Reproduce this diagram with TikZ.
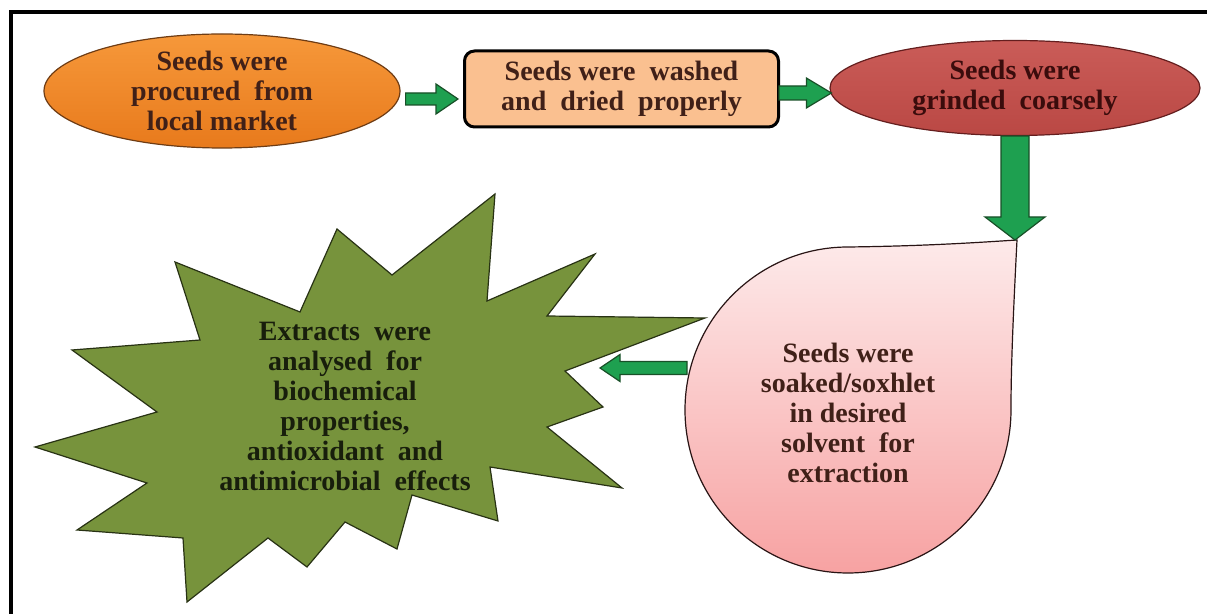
\documentclass[tikz,border=0pt]{standalone}
\usepackage{fontspec}
\setmainfont{Liberation Serif}
\usetikzlibrary{shapes.geometric,calc}
\definecolor{textbrown}{RGB}{64,32,24}
\definecolor{grindtext}{RGB}{58,12,12}
\definecolor{startext}{RGB}{24,30,12}
\definecolor{orangetop}{RGB}{246,152,58}
\definecolor{orangebot}{RGB}{232,122,28}
\definecolor{orangeedge}{RGB}{110,60,20}
\definecolor{washpeach}{RGB}{250,192,144}
\definecolor{grindtop}{RGB}{202,92,88}
\definecolor{grindbot}{RGB}{186,72,68}
\definecolor{grindedge}{RGB}{100,30,30}
\definecolor{droptop}{RGB}{253,234,234}
\definecolor{dropbot}{RGB}{247,162,162}
\definecolor{dropedge}{RGB}{40,20,20}
\definecolor{starfill}{RGB}{119,147,60}
\definecolor{staredge}{RGB}{40,50,20}
\definecolor{arrowgreen}{RGB}{30,160,80}
\definecolor{arrowedge}{RGB}{25,80,40}
\begin{document}
\begin{tikzpicture}[x=0.5pt,y=0.5pt,line join=miter,
		font=\fontsize{14}{15}\selectfont\bfseries]
	\tikzset{stage/.style={align=center,inner sep=0pt,text=textbrown},
		arrowbody/.style={fill=arrowgreen,draw=arrowedge,line width=0.6pt},
		blockarrow/.style n args={3}{arrowbody,
			to path={let \p1=(\tikztostart), \p2=(\tikztotarget),
				\n1={atan2(\y2-\y1,\x2-\x1)}, \n2={veclen(\x2-\x1,\y2-\y1)} in
				([shift={(\p1)},rotate=\n1]0pt,#1)
				-- ([shift={(\p1)},rotate=\n1]{\n2-#3},#1)
				-- ([shift={(\p1)},rotate=\n1]{\n2-#3},#2)
				-- ([shift={(\p1)},rotate=\n1]\n2,0pt)
				-- ([shift={(\p1)},rotate=\n1]{\n2-#3},-#2)
				-- ([shift={(\p1)},rotate=\n1]{\n2-#3},-#1)
				-- ([shift={(\p1)},rotate=\n1]0pt,-#1) -- cycle}}}
	\useasboundingbox (0,0) rectangle (1207,-614);
	\draw[line width=2pt] (11,-614)--(11,-12)--(1207,-12); % khung
	% cac buoc
	\node[stage,ellipse,draw=orangeedge,line width=0.6pt,top color=orangetop,bottom color=orangebot,
		inner sep=-2pt,minimum width=178pt,minimum height=57pt] (market) at (222,-91)
		{Seeds were\\procured\ \ from\\local market};
	\node[stage,draw=black,line width=1.5pt,rounded corners=5pt,fill=washpeach,
		minimum width=157pt,minimum height=38pt] (wash) at (621.5,-89)
		{Seeds were\ \ washed\\and\ \ dried\ \ properly};
	\node[stage,ellipse,text=grindtext,draw=grindedge,line width=0.6pt,top color=grindtop,bottom color=grindbot,
		inner sep=0pt,minimum width=185pt,minimum height=47.5pt] (grind) at (1015,-88)
		{Seeds were\\grinded\ \ coarsely};
	% giot nuoc
	\coordinate (droptip) at (1017,-240);
	\coordinate (dropwest) at (687,-368);
	\path[draw=dropedge,line width=0.6pt,top color=droptop,bottom color=dropbot]
		(1011,-410) arc[start angle=0,end angle=-270,radius=163]
		.. controls (930,-246) and (985,-242) .. (droptip)
		.. controls (1014,-300) and (1011,-360) .. (1011,-410) -- cycle;
	\node[stage] (soak) at (848,-413)
		{Seeds were\\soaked/soxhlet\\in desired\\solvent\ \ for\\extraction};
	% ngoi sao
	\draw[fill=starfill,draw=staredge,line width=0.6pt]
		(175,-262)--(300,-312)--(337,-229)--(392,-275)--(495,-194)--(487,-301)--(595,-254)
		--(547,-316)--(705,-318)--(565,-371)--(603,-407)--(547,-427)--(622,-488)--(490,-467)
		--(498,-521)--(412,-495)--(397,-549)--(345,-522)--(307,-567)--(268,-538)--(187,-602)
		--(183,-538)--(77,-530)--(147,-483)--(35,-447)--(157,-412)--(72,-350)--(200,-340)--cycle;
	\node[stage,text=startext] (analysis) at (345,-406)
		{Extracts\ \ were\\analysed\ \ for\\biochemical\\properties,\\antioxidant\ \ and\\antimicrobial\ \ effects};
	\coordinate (starside) at (600,-368);
	% mui ten
	\draw[blockarrow={3pt}{7.5pt}{11pt}] ($(market.east)+(5,-8)$) to ($(market.east -| wash.west)+(-5,-8)$);
	\draw[blockarrow={3.5pt}{7.5pt}{12.5pt}] ($(wash.east)+(-1,-4)$) to ($(wash.east -| grind.west)+(2,-4)$);
	\draw[blockarrow={7pt}{15pt}{11.5pt}] (grind.south) to (grind.south |- droptip);
	\draw[blockarrow={3.25pt}{6.75pt}{10pt}] (dropwest) to (starside);
\end{tikzpicture}
\end{document}
